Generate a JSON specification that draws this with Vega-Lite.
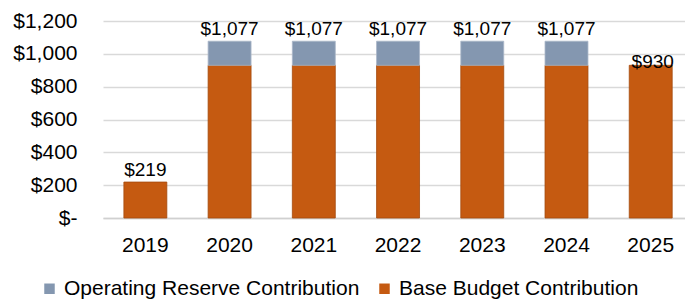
{
  "$schema": "https://vega.github.io/schema/vega-lite/v6.json",
  "width": 582,
  "height": 197,
  "autosize": "none",
  "padding": {"left": 103, "top": 21, "right": 0, "bottom": 81},
  "background": "white",
  "config": {
    "font": "Liberation Sans",
    "view": {"stroke": null},
    "axisY": {
      "title": null,
      "labelOverlap": false,
      "labelFontSize": 21,
      "labelColor": "#000000",
      "labelPadding": 26,
      "ticks": false,
      "domain": false,
      "gridColor": "#d9d9d9",
      "gridWidth": 1.3
    }
  },
  "data": {
    "values": [
      {"year": "2019", "series": "Base Budget Contribution", "value": 219},
      {"year": "2020", "series": "Base Budget Contribution", "value": 930},
      {"year": "2020", "series": "Operating Reserve Contribution", "value": 147},
      {"year": "2021", "series": "Base Budget Contribution", "value": 930},
      {"year": "2021", "series": "Operating Reserve Contribution", "value": 147},
      {"year": "2022", "series": "Base Budget Contribution", "value": 930},
      {"year": "2022", "series": "Operating Reserve Contribution", "value": 147},
      {"year": "2023", "series": "Base Budget Contribution", "value": 930},
      {"year": "2023", "series": "Operating Reserve Contribution", "value": 147},
      {"year": "2024", "series": "Base Budget Contribution", "value": 930},
      {"year": "2024", "series": "Operating Reserve Contribution", "value": 147},
      {"year": "2025", "series": "Base Budget Contribution", "value": 930}
    ]
  },
  "encoding": {
    "x": {
      "field": "year",
      "type": "nominal",
      "scale": {"paddingInner": 0.49, "paddingOuter": 0.2, "align": 0.62},
      "axis": {
        "title": null,
        "labelAngle": 0,
        "labelFontSize": 21,
        "labelColor": "#000000",
        "labelPadding": 16,
        "ticks": false,
        "domainColor": "#d0d0d0",
        "domainWidth": 1.5
      }
    }
  },
  "layer": [
    {
      "mark": {"type": "bar", "strokeWidth": 0.8},
      "encoding": {
        "y": {
          "field": "value",
          "type": "quantitative",
          "stack": "zero",
          "scale": {"domain": [0, 1200]},
          "axis": {
            "values": [0, 200, 400, 600, 800, 1000, 1200],
            "labelExpr": "datum.value == 0 ? '$-' : '$' + format(datum.value, ',')"
          }
        },
        "order": {"field": "series", "sort": "ascending"},
        "color": {
          "field": "series",
          "type": "nominal",
          "scale": {
            "domain": ["Operating Reserve Contribution", "Base Budget Contribution"],
            "range": ["#8497B0", "#C55A11"]
          },
          "legend": {
            "title": null,
            "orient": "none",
            "direction": "horizontal",
            "legendX": -64,
            "legendY": 257,
            "symbolType": "square",
            "symbolSize": 110,
            "symbolStrokeWidth": 0,
            "labelFontSize": 21,
            "labelColor": "#000000",
            "labelLimit": 0,
            "labelOffset": 4,
            "columnPadding": 14
          }
        },
        "stroke": {
          "field": "series",
          "type": "nominal",
          "scale": {
            "domain": ["Operating Reserve Contribution", "Base Budget Contribution"],
            "range": ["#A9B6C8", "#A34A0E"]
          },
          "legend": null
        }
      }
    },
    {
      "transform": [
        {"joinaggregate": [{"op": "sum", "field": "value", "as": "total"}], "groupby": ["year"]},
        {"filter": "datum.series == 'Base Budget Contribution' && datum.year != '2025'"}
      ],
      "mark": {"type": "text", "fontSize": 19, "color": "#000000", "baseline": "alphabetic", "dy": -6},
      "encoding": {
        "y": {
          "field": "total",
          "type": "quantitative",
          "axis": {
            "values": [0, 200, 400, 600, 800, 1000, 1200],
            "labelExpr": "datum.value == 0 ? '$-' : '$' + format(datum.value, ',')"
          }
        },
        "text": {"field": "total", "type": "quantitative", "format": "$,.0f"}
      }
    },
    {
      "transform": [
        {"joinaggregate": [{"op": "sum", "field": "value", "as": "total"}], "groupby": ["year"]},
        {"filter": "datum.series == 'Base Budget Contribution' && datum.year == '2025'"}
      ],
      "mark": {"type": "text", "fontSize": 19, "color": "#000000", "baseline": "alphabetic", "dy": 3, "dx": 2},
      "encoding": {
        "y": {
          "field": "total",
          "type": "quantitative",
          "axis": {
            "values": [0, 200, 400, 600, 800, 1000, 1200],
            "labelExpr": "datum.value == 0 ? '$-' : '$' + format(datum.value, ',')"
          }
        },
        "text": {"field": "total", "type": "quantitative", "format": "$,.0f"}
      }
    }
  ]
}
